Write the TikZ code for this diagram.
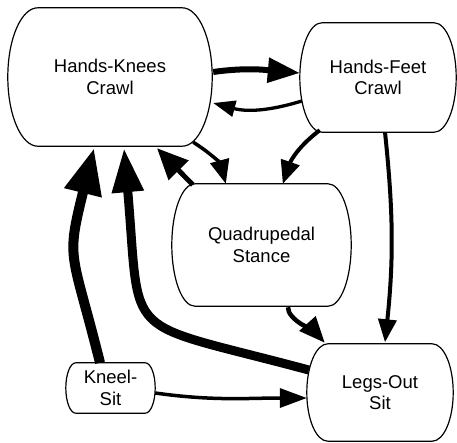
\documentclass[tikz,border=0pt]{standalone}
\usepackage{fontspec}
\setmainfont{Liberation Sans}
\usetikzlibrary{arrows.meta,calc}
\newcommand{\sideround}[2]{%
  \draw[outline] let \p1=(#1.north east), \p2=(#1.south west), \n1={(\y1-\y2)/2} in
   (\x2+#2,\y1) -- (\x1-#2,\y1) arc[start angle=90, end angle=-90, x radius=#2pt, y radius=\n1]
   -- (\x2+#2,\y2) arc[start angle=270, end angle=90, x radius=#2pt, y radius=\n1] -- cycle;}
\begin{document}
\begin{tikzpicture}[x=1pt,y=1pt,
  state/.style={rectangle, inner sep=0pt, align=center, font=\fontsize{18.5}{21.5}\selectfont},
  outline/.style={line width=1.2pt},
  conn/.style={line cap=butt}
]
\useasboundingbox (0,0) rectangle (457,442);
\node[state, minimum width=204pt, minimum height=138pt] (hk) at (110,365) {Hands-Knees\\Crawl};
\node[state, minimum width=156pt, minimum height=109pt] (hf) at (378,364.5) {Hands-Feet\\Crawl};
\node[state, minimum width=179pt, minimum height=122pt] (qs) at (261.5,197) {Quadrupedal\\Stance};
\node[state, minimum width=146pt, minimum height=97pt] (lo) at (380,49.5) {Legs-Out\\Sit};
\node[state, minimum width=89pt, minimum height=50pt] (ks) at (110.5,54) {Kneel-\\Sit};
\sideround{hk}{30}
\sideround{hf}{22}
\sideround{qs}{23}
\sideround{lo}{21}
\sideround{ks}{10}
% connectors
\draw[conn, line width=6pt, -{Triangle[length=32pt,width=24pt]}]
  ($(hk.east)+(1,5)$) to[out=8,in=175] ($(hf.west)+(0,4.5)$);
\draw[conn, line width=3.3pt, -{Triangle[length=22pt,width=16pt]}]
  ($(hf.west)+(2,-23.5)$) to[out=197,in=-15] ($(hk.east)+(1,-26)$);
\draw[conn, line width=3.5pt, -{Triangle[length=24pt,width=19pt]}]
  ($(hk.south east)+(-19,4)$) to[out=-32,in=105] ($(qs.north west)+(54,0)$);
\draw[conn, line width=4pt, -{Triangle[length=23pt,width=19pt]}]
  ($(hf.south west)+(20,2)$) to[out=217,in=71] ($(qs.north west)+(111,0)$);
\draw[conn, line width=5pt, -{Triangle[length=31pt,width=27pt]}]
  ($(qs.north west)+(21,-1)$) -- ($(hk.south)+(47,-2)$);
\draw[conn, line width=4pt, -{Triangle[length=23pt,width=18pt]}]
  ($(hf.south)+(7,0)$) to[out=-84,in=84] ($(lo.north)+(5,1.5)$);
\draw[conn, line width=4.5pt, -{Triangle[length=26pt,width=21pt]}]
  ($(qs.south)+(26.5,-1)$) to[out=-95,in=132,looseness=0.6] ($(lo.north west)+(18,1)$);
\draw[conn, line width=10pt, -{Triangle[length=46pt,width=36pt]}]
  ($(ks.north)+(-10.5,0)$) to[out=104,in=-104,looseness=1.4] ($(hk.south)+(-16,-2)$);
\draw[conn, line width=9pt, -{Triangle[length=44pt,width=30pt]}]
  ($(lo.west)+(2,22.5)$) to[out=165,in=-85,looseness=1.75] ($(hk.south)+(14,-2)$);
\draw[conn, line width=3.5pt, -{Triangle[length=27pt,width=19pt]}]
  ($(ks.east)+(0,-5)$) to[out=-8,in=180] ($(lo.west)+(0,-5.5)$);
\end{tikzpicture}
\end{document}
